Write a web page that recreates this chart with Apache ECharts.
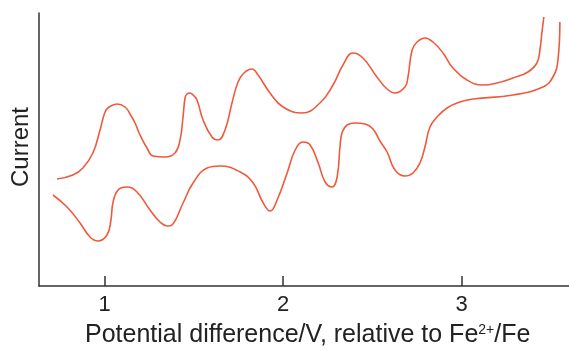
<!DOCTYPE html>
<html>
<head>
<meta charset="utf-8">
<script src="https://cdn.jsdelivr.net/npm/echarts@6/dist/echarts.min.js"></script>
<style>
  html, body { margin: 0; padding: 0; background: #fff; }
  #chart { width: 569px; height: 351px; }
</style>
</head>
<body>
<div id="chart"></div>
<script>
// Tick labels on the potential axis (V)
var tickValues = [1, 2, 3];

// Forward (oxidising) sweep: potential (V) and current (arbitrary units)
var forwardPotential = [0.733, 0.822, 0.878, 0.934, 0.974, 1.002, 1.025, 1.069, 1.114, 1.145, 1.170, 1.198, 1.237, 1.271, 1.338, 1.394, 1.422, 1.439, 1.450, 1.461, 1.478, 1.495, 1.517, 1.551, 1.601, 1.635, 1.674, 1.713, 1.747, 1.780, 1.825, 1.859, 1.926, 1.999, 2.106, 2.206, 2.279, 2.335, 2.391, 2.447, 2.525, 2.582, 2.626, 2.682, 2.699, 2.722, 2.750, 2.794, 2.839, 2.895, 2.951, 3.029, 3.119, 3.197, 3.287, 3.371, 3.421, 3.438, 3.449, 3.460];
var forwardCurrent   = [107, 111, 118, 133, 156, 174, 179, 182, 179, 171, 163, 151, 138, 130, 129, 133, 146, 169, 188, 192, 193, 191, 186, 166, 149, 146, 156, 183, 204, 213, 217, 211, 193, 179, 173, 183, 201, 221, 233, 228, 209, 197, 193, 199, 209, 236, 244, 248, 244, 233, 218, 206, 201, 203, 208, 214, 223, 236, 253, 269];

// Reverse (reducing) sweep: potential (V) and current (arbitrary units)
var reversePotential = [3.550, 3.539, 3.511, 3.455, 3.287, 3.063, 2.990, 2.918, 2.862, 2.822, 2.794, 2.766, 2.727, 2.682, 2.626, 2.582, 2.542, 2.503, 2.459, 2.403, 2.358, 2.331, 2.319, 2.302, 2.274, 2.235, 2.196, 2.151, 2.112, 2.067, 2.022, 1.966, 1.927, 1.888, 1.832, 1.759, 1.647, 1.574, 1.495, 1.439, 1.377, 1.355, 1.310, 1.254, 1.181, 1.125, 1.075, 1.046, 1.035, 1.013, 0.962, 0.918, 0.862, 0.789, 0.710];
var reverseCurrent   = [264, 226, 209, 199, 191, 187, 184, 178, 169, 159, 139, 123, 113, 110, 116, 134, 145, 157, 162, 163, 161, 154, 141, 109, 99, 104, 123, 141, 144, 136, 113, 86, 75, 83, 103, 114, 120, 118, 103, 83, 61, 60, 64, 76, 94, 99, 96, 83, 66, 51, 45, 49, 63, 79, 91];

function pairs(xs, ys) {
  return xs.map(function (x, i) { return [x, ys[i]]; });
}

var lineColor = '#ef5a3d';
var axisColor = '#333333';
var font = '"Liberation Sans", Arial, Helvetica, sans-serif';

var chart = echarts.init(document.getElementById('chart'), null, { renderer: 'canvas' });
chart.setOption({
  animation: false,
  backgroundColor: '#ffffff',
  grid: { left: 39, right: 0, top: 13, bottom: 65, containLabel: false },
  xAxis: {
    type: 'value',
    min: 0.632,
    max: 3.601,
    splitLine: { show: false },
    axisLine: { show: true, onZero: false, lineStyle: { color: axisColor, width: 1.5 } },
    axisTick: { show: true, inside: true, length: 10, customValues: tickValues, lineStyle: { color: axisColor, width: 1.5 } },
    axisLabel: { show: true, customValues: tickValues, margin: 8, color: '#222', fontSize: 22, fontFamily: font }
  },
  yAxis: {
    type: 'value',
    min: 0,
    max: 273,
    splitLine: { show: false },
    axisLine: { show: true, lineStyle: { color: axisColor, width: 1.5 } },
    axisTick: { show: false },
    axisLabel: { show: false }
  },
  graphic: [
    {
      type: 'text',
      left: 85,
      top: 323,
      style: {
        text: '{a|Potential difference/V, relative to Fe}{s|2+}{a|/Fe}',
        fill: '#222',
        rich: {
          a: { fontSize: 25, fontFamily: font, fill: '#222' },
          s: { fontSize: 14, fontFamily: font, fill: '#222', verticalAlign: 'top', padding: [0, 0, 8, 0] }
        }
      }
    },
    {
      type: 'text',
      rotation: Math.PI / 2,
      x: 21,
      y: 147,
      style: {
        text: 'Current',
        fontSize: 24,
        fontFamily: font,
        fill: '#222',
        align: 'center',
        verticalAlign: 'middle'
      }
    }
  ],
  series: [
    {
      type: 'line',
      data: pairs(forwardPotential, forwardCurrent),
      smooth: 0.45,
      showSymbol: false,
      lineStyle: { color: lineColor, width: 1.6 }
    },
    {
      type: 'line',
      data: pairs(reversePotential, reverseCurrent),
      smooth: 0.45,
      showSymbol: false,
      lineStyle: { color: lineColor, width: 1.6 }
    }
  ]
});
</script>
</body>
</html>
